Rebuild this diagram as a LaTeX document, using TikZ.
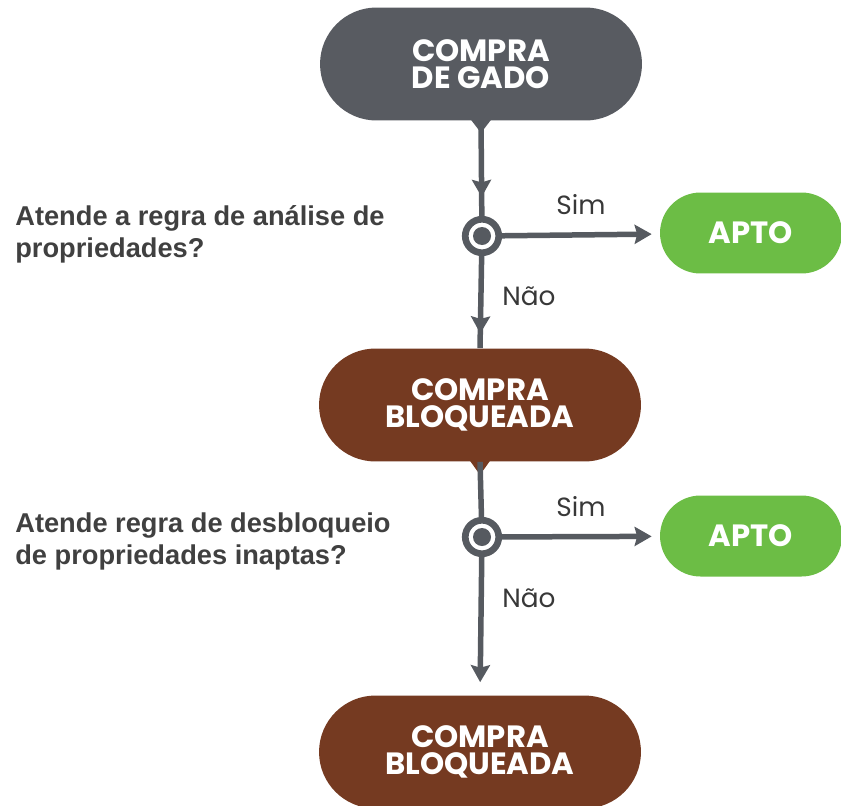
\documentclass[tikz,border=0pt]{standalone}
\usepackage{fontspec}
\setmainfont{Liberation Sans}
\newfontfamily\pillfont{Poppins}
\usetikzlibrary{arrows.meta,decorations.markings,shapes.misc}

\definecolor{gadogray}{HTML}{585B61}
\definecolor{bloqbrown}{HTML}{753A21}
\definecolor{aptogreen}{HTML}{6CBD45}
\definecolor{flowgray}{HTML}{565A60}
\definecolor{asktext}{HTML}{404040}
\definecolor{simtext}{HTML}{383838}

\begin{document}
\begin{tikzpicture}[x=0.02cm,y=-0.02cm,
  pill/.style={rounded rectangle, inner sep=0pt, align=center, text=white,
    minimum width=6.44cm, minimum height=2.26cm,
    font=\pillfont\bfseries\fontsize{17.5}{15.5}\selectfont},
  apto/.style={pill, fill=aptogreen, minimum width=3.64cm, minimum height=1.62cm},
  node/.style={circle, draw=flowgray, line width=0.134cm, fill=white,
    minimum size=0.67cm, inner sep=0pt},
  flow/.style={draw=flowgray, line width=0.11cm},
  tip/.style={-{Stealth[length=0.34cm,width=0.38cm,inset=0.05cm]}},
  midtip/.style={postaction=decorate, decoration={markings,
    mark=at position #1 with {\arrow{Stealth[length=0.34cm,width=0.38cm,inset=0.05cm]}}}},
  ask/.style={anchor=west, align=left, inner sep=0pt, text=asktext,
    font=\bfseries\fontsize{15.5}{18.2}\selectfont},
  answer/.style={text=simtext, font=\pillfont\fontsize{15}{17}\selectfont}]

\useasboundingbox (0,0) rectangle (841,805);

% caixas
\node[pill, fill=gadogray] (gado) at (481,64) {COMPRA\\DE GADO};
\node[pill, fill=bloqbrown] (bloq1) at (480,405) {COMPRA\\BLOQUEADA};
\node[pill, fill=bloqbrown] (bloq2) at (480,752) {COMPRA\\BLOQUEADA};
\node[apto] (apto1) at (751,233) {APTO};
\node[apto] (apto2) at (751,536) {APTO};

% pontas das caixas
\fill[gadogray] (gado.south) ++(-10,-1) -- ++(20,0) -- ++(-10,13) -- cycle;
\fill[bloqbrown] (bloq1.south) ++(-10,-1) -- ++(20,0) -- ++(-10,14) -- cycle;

% decisoes
\node[node] (dec1) at (482,236) {};
\node[node] (dec2) at (482,537) {};
\foreach \i in {1,2}
 {\fill[flowgray] (dec\i) circle (0.18cm);
 }

% ligacoes
\draw[flow, midtip=0.8] (gado.south) -- (dec1);
\draw[flow, midtip=0.84] (dec1) -- (bloq1.north);
\draw[flow] (bloq1.south) -- (dec2);
\draw[flow, tip, shorten >=0.26cm] (dec2) -- (bloq2.north);
\draw[flow, tip, shorten >=0.16cm] (dec1) -- (apto1)
  node[answer, midway, yshift=17.5pt] (sim1) {Sim};
\draw[flow, tip, shorten >=0.16cm] (dec2) -- (apto2)
  node[answer, midway, yshift=17pt] (sim2) {Sim};
\node[answer, anchor=west, inner sep=0pt] (nao1) at (502,296) {Não};
\node[answer, anchor=west, inner sep=0pt] (nao2) at (502,598) {Não};

% perguntas
\node[ask] (ask1) at (15,234) {Atende a regra de análise de\\propriedades?};
\node[ask] (ask2) at (15,541) {Atende regra de desbloqueio\\de propriedades inaptas?};

\end{tikzpicture}
\end{document}
